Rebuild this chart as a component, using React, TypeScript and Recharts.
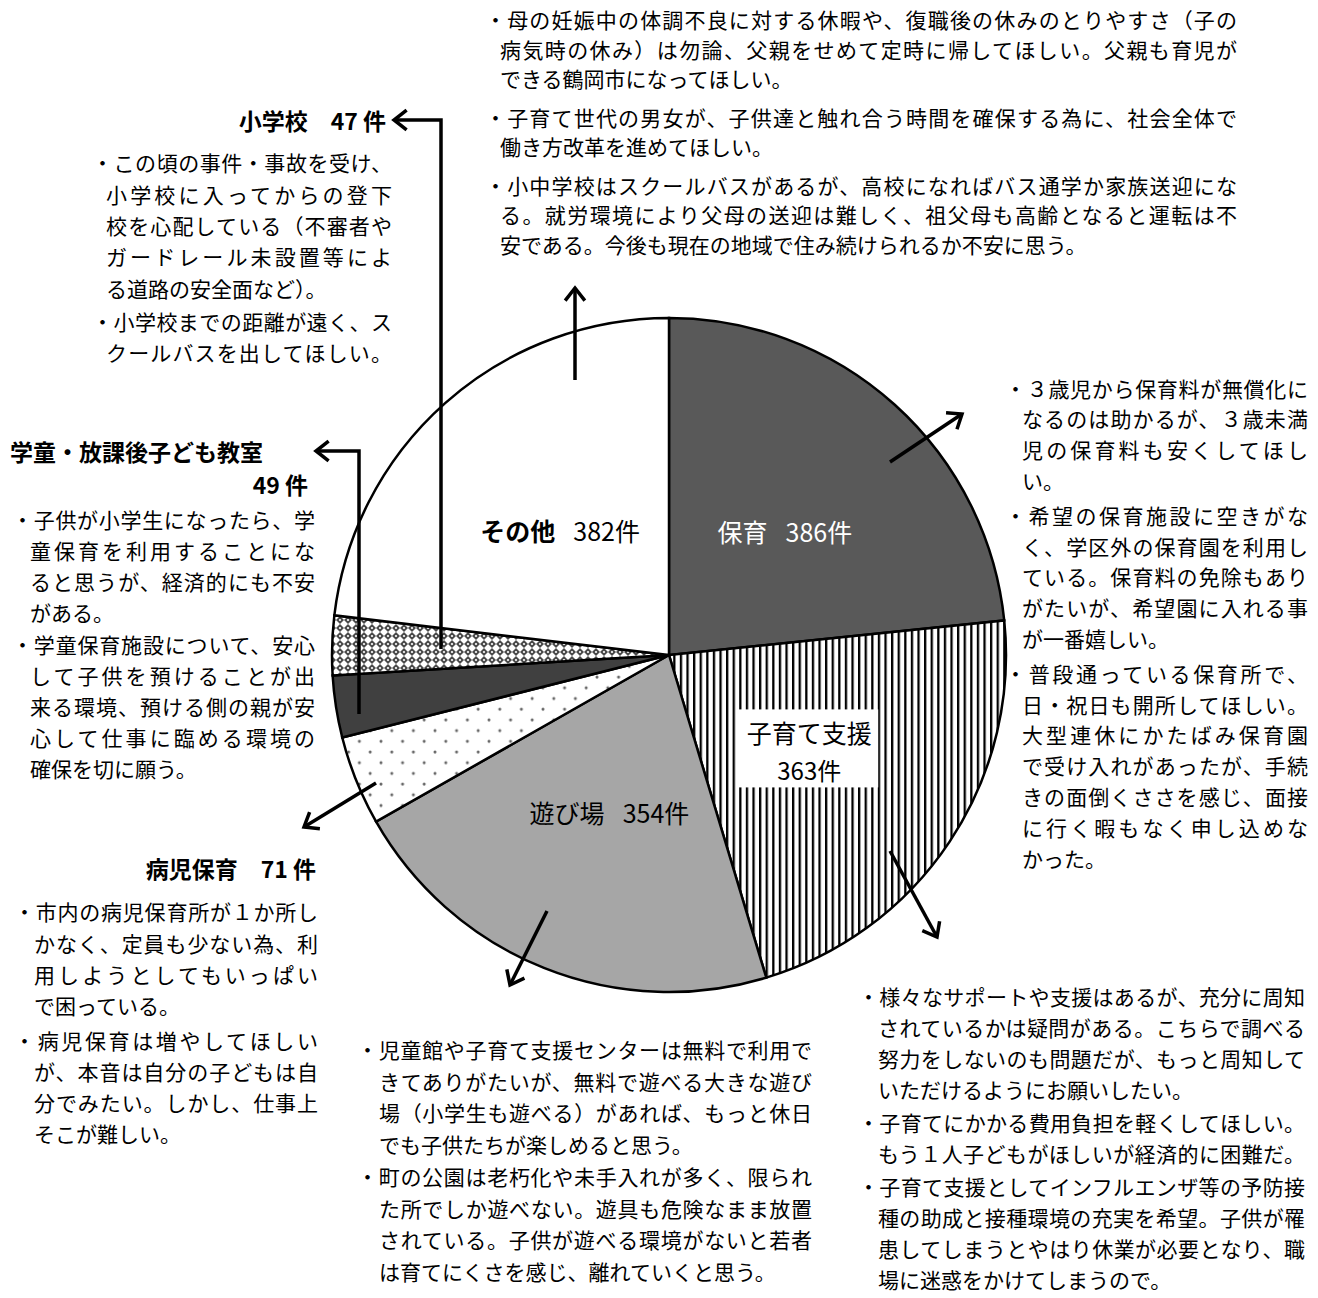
import React from "react";
import { PieChart, Pie, Cell } from "recharts";

// 子育て支援に関する自由意見 — 分類別件数
const categories = ["保育", "子育て支援", "遊び場", "病児保育", "学童・放課後子ども教室", "小学校", "その他"];
const counts = [386, 363, 354, 71, 49, 47, 382];
const insideLabels = ["保育", "子育て支援", "遊び場", "", "", "", "その他"];
const fills = ["#595959", "url(#vstripe)", "#a6a6a6", "url(#dots)", "#404040", "url(#lattice)", "#ffffff"];

const topLines = [
  ["・母の妊娠中の体調不良に対する休暇や、復職後の休みのとりやすさ（子の", "病気時の休み）は勿論、父親をせめて定時に帰してほしい。父親も育児が", "できる鶴岡市になってほしい。"],
  ["・子育て世代の男女が、子供達と触れ合う時間を確保する為に、社会全体で", "働き方改革を進めてほしい。"],
  ["・小中学校はスクールバスがあるが、高校になればバス通学か家族送迎にな", "る。就労環境により父母の送迎は難しく、祖父母も高齢となると運転は不", "安である。今後も現在の地域で住み続けられるか不安に思う。"],
];
const schoolLines = [
  ["・この頃の事件・事故を受け、", "小学校に入ってからの登下", "校を心配している（不審者や", "ガードレール未設置等によ", "る道路の安全面など）。"],
  ["・小学校までの距離が遠く、ス", "クールバスを出してほしい。"],
];
const afterSchoolLines = [
  ["・子供が小学生になったら、学", "童保育を利用することにな", "ると思うが、経済的にも不安", "がある。"],
  ["・学童保育施設について、安心", "して子供を預けることが出", "来る環境、預ける側の親が安", "心して仕事に臨める環境の", "確保を切に願う。"],
];
const sickLines = [
  ["・市内の病児保育所が１か所し", "かなく、定員も少ない為、利", "用しようとしてもいっぱい", "で困っている。"],
  ["・病児保育は増やしてほしい", "が、本音は自分の子どもは自", "分でみたい。しかし、仕事上", "そこが難しい。"],
];
const playLines = [
  ["・児童館や子育て支援センターは無料で利用で", "きてありがたいが、無料で遊べる大きな遊び", "場（小学生も遊べる）があれば、もっと休日", "でも子供たちが楽しめると思う。"],
  ["・町の公園は老朽化や未手入れが多く、限られ", "た所でしか遊べない。遊具も危険なまま放置", "されている。子供が遊べる環境がないと若者", "は育てにくさを感じ、離れていくと思う。"],
];
const supportLines = [
  ["・様々なサポートや支援はあるが、充分に周知", "されているかは疑問がある。こちらで調べる", "努力をしないのも問題だが、もっと周知して", "いただけるようにお願いしたい。"],
  ["・子育てにかかる費用負担を軽くしてほしい。", "もう１人子どもがほしいが経済的に困難だ。"],
  ["・子育て支援としてインフルエンザ等の予防接", "種の助成と接種環境の充実を希望。子供が罹", "患してしまうとやはり休業が必要となり、職", "場に迷惑をかけてしまうので。"],
];
const nurseryLines = [
  ["・３歳児から保育料が無償化に", "なるのは助かるが、３歳未満", "児の保育料も安くしてほし", "い。"],
  ["・希望の保育施設に空きがな", "く、学区外の保育園を利用し", "ている。保育料の免除もあり", "がたいが、希望園に入れる事", "が一番嬉しい。"],
  ["・普段通っている保育所で、", "日・祝日も開所してほしい。", "大型連休にかたばみ保育園", "で受け入れがあったが、手続", "きの面倒くささを感じ、面接", "に行く暇もなく申し込めな", "かった。"],
];

const data = categories.map((name, i) => ({ name, value: counts[i] }));

const W = 1318;
const H = 1298;
const CX = 669;
const CY = 655;
const R = 337;
const RAD = Math.PI / 180;
const FONT = "'Noto Sans CJK JP', 'Noto Sans', sans-serif";

type BlockLayout = { left: number; right: number; first: number; lh: number; gap: number; indent: number; fs: number };

const blocks: { paras: string[][]; layout: BlockLayout }[] = [
  { paras: topLines, layout: { left: 485, right: 1237, first: 20, lh: 29.5, gap: 9, indent: 15, fs: 21 } },
  { paras: schoolLines, layout: { left: 92, right: 392, first: 163, lh: 31.3, gap: 2, indent: 14, fs: 21 } },
  { paras: afterSchoolLines, layout: { left: 12, right: 315, first: 519, lh: 31, gap: 1, indent: 18, fs: 21 } },
  { paras: sickLines, layout: { left: 14, right: 318, first: 912, lh: 31.3, gap: 3, indent: 20, fs: 21 } },
  { paras: playLines, layout: { left: 357, right: 812, first: 1050, lh: 31.6, gap: 0.5, indent: 22, fs: 21 } },
  { paras: supportLines, layout: { left: 858, right: 1305, first: 996, lh: 31, gap: 2, indent: 20, fs: 21 } },
  { paras: nurseryLines, layout: { left: 1005, right: 1308, first: 388, lh: 30.8, gap: 4, indent: 17, fs: 21 } },
];

const headings = [
  { text: "小学校　47 件", right: 386, y: 120 },
  { text: "学童・放課後子ども教室", left: 10, y: 451 },
  { text: "49 件", right: 308, y: 484 },
  { text: "病児保育　71 件", right: 316, y: 868 },
];

const arrows: number[][][] = [
  [[575, 380], [575, 288]],
  [[890, 462], [962, 414]],
  [[890, 851], [937, 937]],
  [[547, 911], [510, 985]],
  [[376, 783], [304, 827]],
  [[359, 714], [359, 451], [316, 451]],
  [[441, 649], [441, 120], [394, 120]],
];

function SliceLabel(props: any) {
  const { cx, cy, midAngle, outerRadius, index, value } = props;
  const name = insideLabels[index];
  if (!name) return null;
  const r = outerRadius * 0.5;
  const x = cx + r * Math.cos(-midAngle * RAD);
  const y = cy + r * Math.sin(-midAngle * RAD);
  if (index === 1) {
    return (
      <g>
        <rect x={x - 72} y={y - 39} width={141} height={78} fill="#fff" />
        <text x={x} y={y - 16} textAnchor="middle" dominantBaseline="central" fontSize={25} fontFamily={FONT} fill="#000">
          {name}
        </text>
        <text x={x} y={y + 21} textAnchor="middle" dominantBaseline="central" fontSize={24} fontFamily={FONT} fill="#000">
          {value}件
        </text>
      </g>
    );
  }
  return (
    <text x={x + 3} y={y + 1} textAnchor="middle" dominantBaseline="central" fontSize={25} fontFamily={FONT} fill={index === 0 ? "#fff" : "#000"}>
      <tspan fontWeight={index === 6 ? 700 : 400}>{name}</tspan>
      <tspan dx={18}>{value}件</tspan>
    </text>
  );
}

function TextBlock({ paras, layout }: { paras: string[][]; layout: BlockLayout }) {
  const { left, right, first, lh, gap, indent, fs } = layout;
  const maxCont = Math.max(...paras.flatMap((p) => p.slice(1).map((l) => l.length)));
  return (
    <div
      style={{
        position: "absolute",
        left,
        top: first - lh / 2,
        width: right - left,
        fontSize: fs,
        lineHeight: `${lh}px`,
        fontFamily: FONT,
        color: "#000",
      }}
    >
      {paras.map((p, pi) => (
        <div key={pi} style={{ marginTop: pi ? gap : 0 }}>
          {p.map((line, li) => {
            const justify = li < p.length - 1 || line.length >= maxCont;
            return (
              <div
                key={li}
                style={{
                  paddingLeft: li ? indent : 0,
                  textAlign: justify ? "justify" : "left",
                  textAlignLast: justify ? "justify" : "left",
                }}
              >
                {line}
              </div>
            );
          })}
        </div>
      ))}
    </div>
  );
}

function Arrow({ pts }: { pts: number[][] }) {
  const [tx, ty] = pts[pts.length - 1];
  const [px, py] = pts[pts.length - 2];
  const len = Math.hypot(tx - px, ty - py);
  const ux = (tx - px) / len;
  const uy = (ty - py) / len;
  const L = 16;
  const a = 38 * RAD;
  const h1 = [tx - L * (ux * Math.cos(a) - uy * Math.sin(a)), ty - L * (uy * Math.cos(a) + ux * Math.sin(a))];
  const h2 = [tx - L * (ux * Math.cos(a) + uy * Math.sin(a)), ty - L * (uy * Math.cos(a) - ux * Math.sin(a))];
  return (
    <g stroke="#000" strokeWidth={3.5} fill="none" strokeLinejoin="miter">
      <polyline points={pts.map((p) => p.join(",")).join(" ")} />
      <polyline points={`${h1[0]},${h1[1]} ${tx},${ty} ${h2[0]},${h2[1]}`} />
    </g>
  );
}

export default function App() {
  return (
    <div style={{ position: "absolute", left: 0, top: 0, width: W, height: H, background: "#fff", overflow: "hidden" }}>
      <svg width={0} height={0} style={{ position: "absolute" }}>
        <defs>
          <pattern id="vstripe" width={6.6} height={10} patternUnits="userSpaceOnUse">
            <rect width={6.6} height={10} fill="#fff" />
            <rect x={0} width={2.3} height={10} fill="#000" />
          </pattern>
          <pattern id="dots" width={21.6} height={21.4} patternUnits="userSpaceOnUse">
            <rect width={21.6} height={21.4} fill="#fff" />
            <circle cx={3} cy={3} r={1.5} fill="#666" />
            <circle cx={13.8} cy={13.7} r={1.5} fill="#666" />
          </pattern>
          <pattern id="lattice" width={8} height={8} patternUnits="userSpaceOnUse">
            <rect width={8} height={8} fill="#fff" />
            <path d="M4 0 L8 4 L4 8 L0 4 Z" fill="#4a4a4a" />
            <circle cx={4} cy={4} r={1.1} fill="#fff" />
          </pattern>
        </defs>
      </svg>
      <PieChart width={W} height={H} margin={{ top: 0, right: 0, bottom: 0, left: 0 }}>
        <Pie
          data={data}
          dataKey="value"
          nameKey="name"
          cx={CX}
          cy={CY}
          outerRadius={R}
          startAngle={90}
          endAngle={-270}
          stroke="#000"
          strokeWidth={2.5}
          label={SliceLabel}
          labelLine={false}
          isAnimationActive={false}
        >
          {data.map((d, i) => (
            <Cell key={d.name} fill={fills[i]} stroke="#000" strokeWidth={2.5} />
          ))}
        </Pie>
      </PieChart>
      <svg width={W} height={H} style={{ position: "absolute", left: 0, top: 0, pointerEvents: "none" }}>
        {arrows.map((pts, i) => (
          <Arrow key={i} pts={pts} />
        ))}
      </svg>
      {blocks.map((b, i) => (
        <TextBlock key={i} paras={b.paras} layout={b.layout} />
      ))}
      {headings.map((h, i) => (
        <div
          key={i}
          style={{
            position: "absolute",
            top: h.y - 16,
            lineHeight: "32px",
            left: h.left,
            right: h.right !== undefined ? W - h.right : undefined,
            fontSize: 23,
            fontWeight: 700,
            fontFamily: FONT,
            whiteSpace: "nowrap",
            color: "#000",
          }}
        >
          {h.text}
        </div>
      ))}
    </div>
  );
}
